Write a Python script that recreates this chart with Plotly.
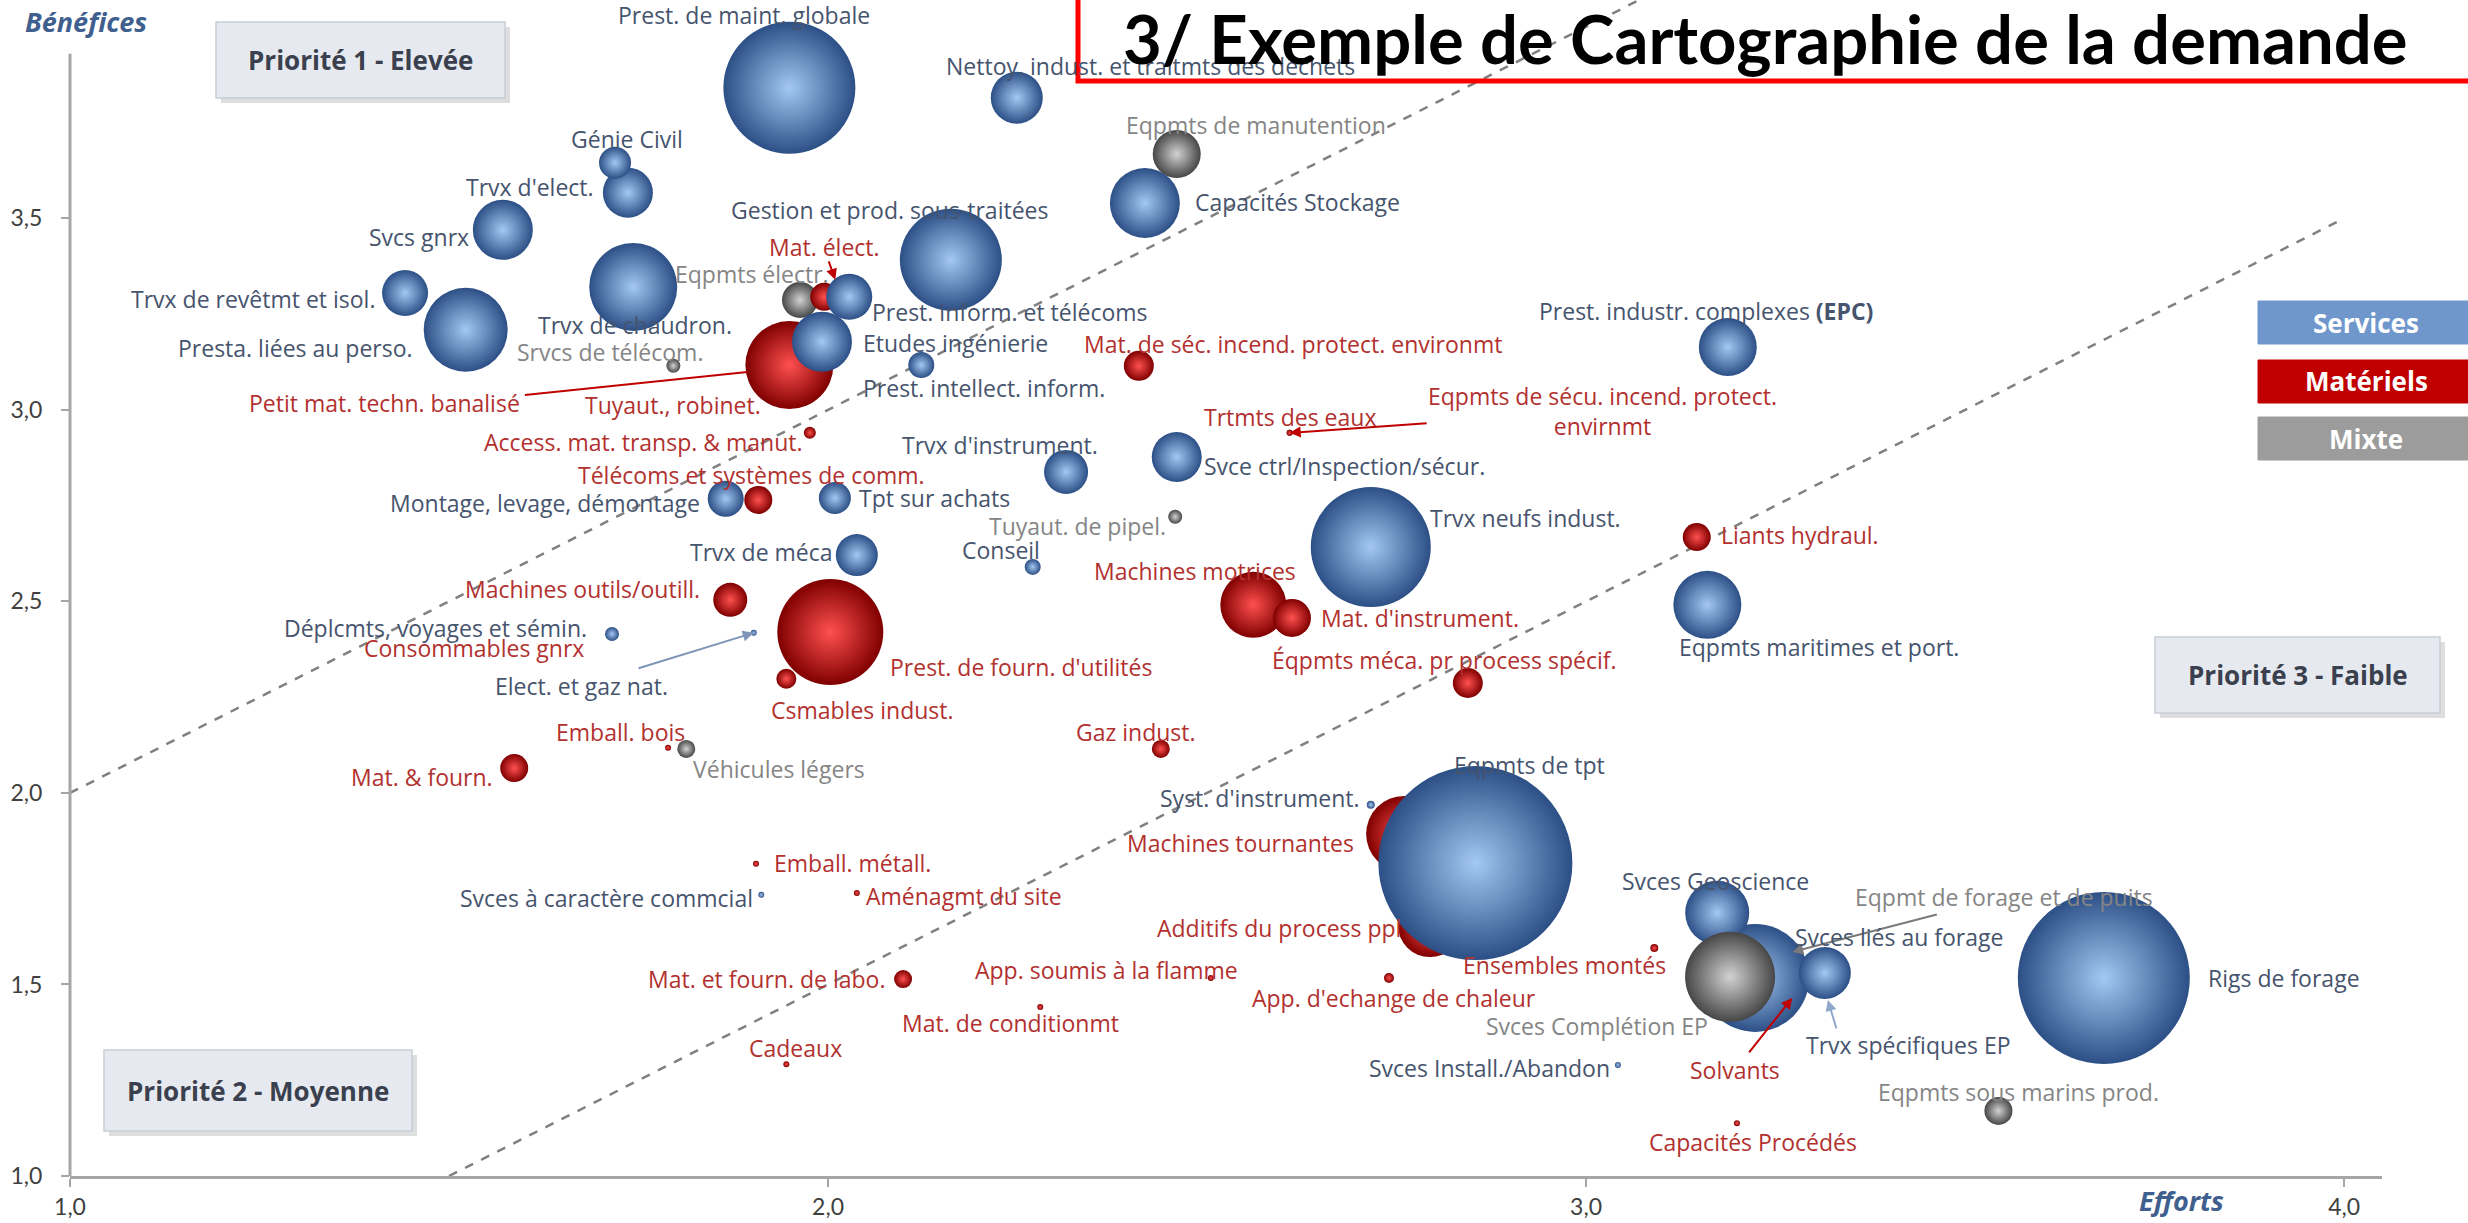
import plotly.graph_objects as go

W, H = 2468, 1223
ML, MR, MT, MB = 70, 86, 0, 47

# ---------------- data (drawing order) ----------------
noms = [
    "Tuyaut., robinet.", "Solvants", "Eqpmt de forage et de puits", "Consommables gnrx",
    "Eqpmts de sécu. incend. protect.<br>envirnmt",
    "Eqpmts de manutention", "Eqpmts électr.", "Srvcs de télécom.", "Tuyaut. de pipel.",
    "Véhicules légers", "Eqpmts sous marins prod.",
    "Prest. de fourn. d'utilités", "Petit mat. techn. banalisé", "Machines tournantes",
    "Machines motrices", "Additifs du process ppl", "Mat. d'instrument.", "Machines outils/outill.",
    "Mat. de séc. incend. protect. environmt", "Éqpmts méca. pr process spécif.", "Mat. élect.",
    "Télécoms et systèmes de comm.", "Mat. & fourn.", "Liants hydraul.", "Csmables indust.",
    "Gaz indust.", "Mat. et fourn. de labo.", "Access. mat. transp. & manut.",
    "App. d'echange de chaleur", "Ensembles montés", "Trtmts des eaux", "Emball. bois",
    "Emball. métall.", "Aménagmt du site", "App. soumis à la flamme", "Mat. de conditionmt",
    "Cadeaux", "Capacités Procédés",
    "Eqpmts de tpt", "Rigs de forage", "Prest. de maint. globale", "Trvx neufs indust.",
    "Svces liés au forage", "Gestion et prod. sous-traitées", "Trvx de chaudron.",
    "Presta. liées au perso.", "Capacités Stockage", "Eqpmts maritimes et port.",
    "Svces Geoscience", "Svcs gnrx", "Etudes ingénierie", "Prest. industr. complexes <b>(EPC)</b>",
    "Nettoy. indust. et traitmts des déchets", "Trvx d'elect.", "Svce ctrl/Inspection/sécur.",
    "Trvx de revêtmt et isol.", "Prest. inform. et télécoms", "Trvx d'instrument.", "Trvx de méca",
    "Montage, levage, démontage", "Génie Civil", "Tpt sur achats", "Prest. intellect. inform.",
    "Conseil", "Déplcmts, voyages et sémin.", "Syst. d'instrument.", "Elect. et gaz nat.",
    "Svces à caractère commcial", "Svces Install./Abandon",
    "Svces Complétion EP", "Trvx spécifiques EP",
]
efforts = [
    1.937, 3.272, 3.272, 1.715, 2.609,
    2.460, 1.963, 1.796, 2.458, 1.813, 3.544,
    2.003, 1.949, 2.760, 2.561, 2.794, 2.612, 1.871, 2.410, 2.844, 1.995,
    1.908, 1.586, 3.146, 1.945, 2.439, 2.099, 1.976, 2.740, 3.090, 2.609, 1.789,
    1.905, 2.038, 2.505, 2.280, 1.945, 3.199,
    2.854, 3.683, 1.949, 2.716, 3.223, 2.162, 1.743, 1.522, 2.418, 3.160,
    3.173, 1.571, 1.992, 3.187, 2.249, 1.736, 2.460, 1.442, 2.028, 2.314, 2.038,
    1.865, 1.719, 2.009, 2.123, 2.270, 1.715, 2.716, 1.902, 1.912, 3.042,
    3.190, 3.315,
]
benefices = [
    3.065, 1.465, 1.585, 2.410, 2.940,
    3.668, 3.287, 3.115, 2.721, 2.115, 1.170,
    2.420, 3.117, 1.893, 2.491, 1.655, 2.457, 2.504, 3.115, 2.287, 3.295,
    2.765, 2.065, 2.668, 2.298, 2.115, 1.514, 2.940, 1.517, 1.595, 2.940, 2.118,
    1.815, 1.739, 1.517, 1.441, 1.292, 1.138,
    1.817, 1.517, 3.841, 2.642, 1.517, 3.392, 3.321, 3.209, 3.540, 2.491,
    1.687, 3.470, 3.178, 3.164, 3.815, 3.567, 2.877, 3.305, 3.295, 2.838, 2.621,
    2.768, 3.645, 2.770, 3.117, 2.590, 2.415, 1.969, 2.418, 1.734, 1.290,
    1.520, 1.530,
]
taille = [
    20, 4, 4, 3, 3,
    24, 18, 7, 7, 9, 14,
    53, 44, 38, 33, 32, 19, 17, 15, 15, 14,
    14, 14, 14, 10, 9, 9, 6, 5, 4, 3, 3,
    3, 3, 3, 3, 3, 3,
    97, 86, 66, 60, 54, 51, 44, 42, 35, 34,
    32, 30, 30, 29, 26, 25, 25, 23, 23, 22, 21,
    18, 16, 16, 13, 8, 7, 4, 3, 3, 3,
    45, 26,
]
categorie = (["Matériels", "Matériels", "Mixte", "Matériels", "Matériels"]
             + ["Mixte"] * 6 + ["Matériels"] * 27 + ["Services"] * 31
             + ["Mixte", "Services"])

# ---------------- styles ----------------
FONT = "'Open Sans', sans-serif"
TFONT = "Lato, 'Open Sans', sans-serif"
# (edge colour, centre colour)
BUB = {"Services": ("#2c4f86", "#a3c8f2"),
       "Matériels": ("#800000", "#ff5050"),
       "Mixte": ("#474747", "#d2d2d2")}
TXT = {"Services": "#46546e", "Matériels": "#b2312f", "Mixte": "#858585"}
LSIZE = 23

# label placement: (dx, dy, anchor) in screen pixels relative to the bubble centre
LAB = {
    "Tuyaut., robinet.": (-107, 20, "c"), "Consommables gnrx": (-26, 12, "r"),
    "Eqpmts de manutention": (79, -29, "c"), "Eqpmts électr.": (-127, -26, "l"),
    "Srvcs de télécom.": (-63, -14, "c"), "Tuyaut. de pipel.": (-7, 9, "r"),
    "Véhicules légers": (5, 20, "l"), "Eqpmts sous marins prod.": (20, -19, "c"),
    "Prest. de fourn. d'utilités": (58, 35, "l"), "Petit mat. techn. banalisé": (-405, 38, "c"),
    "Machines tournantes": (-48, 9, "r"), "Machines motrices": (-58, -34, "c"),
    "Additifs du process ppl": (-27, 3, "r"), "Mat. d'instrument.": (27, 0, "l"),
    "Machines outils/outill.": (-28, -11, "r"),
    "Mat. de séc. incend. protect. environmt": (-57, -22, "l"),
    "Éqpmts méca. pr process spécif.": (-23, -23, "c"), "Mat. élect.": (0, -50, "c"),
    "Télécoms et systèmes de comm.": (-7, -25, "c"), "Mat. & fourn.": (-19, 9, "r"),
    "Liants hydraul.": (22, -2, "l"), "Csmables indust.": (76, 31, "c"),
    "Gaz indust.": (-25, -17, "c"), "Mat. et fourn. de labo.": (-16, 0, "r"),
    "Access. mat. transp. & manut.": (-5, 9, "r"), "App. d'echange de chaleur": (5, 20, "c"),
    "Ensembles montés": (-90, 17, "c"), "Trtmts des eaux": (0, -16, "c"),
    "Emball. bois": (-48, -16, "c"), "Emball. métall.": (16, -1, "l"),
    "Aménagmt du site": (7, 3, "l"), "App. soumis à la flamme": (-104, -8, "c"),
    "Mat. de conditionmt": (-30, 16, "c"), "Cadeaux": (9, -16, "c"),
    "Capacités Procédés": (16, 19, "c"), "Eqpmts de tpt": (54, -98, "c"),
    "Rigs de forage": (102, 0, "l"), "Prest. de maint. globale": (-45, -73, "c"),
    "Trvx neufs indust.": (57, -29, "l"), "Svces liés au forage": (38, -41, "l"),
    "Gestion et prod. sous-traitées": (-61, -50, "c"), "Trvx de chaudron.": (2, 38, "c"),
    "Presta. liées au perso.": (-51, 18, "r"), "Capacités Stockage": (48, -1, "l"),
    "Eqpmts maritimes et port.": (-30, 42, "l"), "Svces Geoscience": (-2, -32, "c"),
    "Svcs gnrx": (-32, 7, "r"), "Etudes ingénierie": (39, 1, "l"),
    "Prest. industr. complexes <b>(EPC)</b>": (-22, -36, "c"),
    "Nettoy. indust. et traitmts des déchets": (134, -32, "c"),
    "Trvx d'elect.": (-32, -6, "r"), "Svce ctrl/Inspection/sécur.": (25, 9, "l"),
    "Trvx de revêtmt et isol.": (-28, 6, "r"), "Prest. inform. et télécoms": (21, 15, "l"),
    "Trvx d'instrument.": (-66, -27, "c"), "Trvx de méca": (-22, -3, "r"),
    "Montage, levage, démontage": (-24, 4, "r"), "Génie Civil": (12, -24, "c"),
    "Tpt sur achats": (22, 0, "l"), "Prest. intellect. inform.": (-60, 23, "l"),
    "Conseil": (-32, -17, "c"), "Déplcmts, voyages et sémin.": (-23, -6, "r"),
    "Syst. d'instrument.": (-9, -7, "r"), "Svces à caractère commcial": (-6, 3, "r"),
    "Svces Install./Abandon": (-6, 3, "r"), "Svces Complétion EP": (-20, 49, "r"),
    "Trvx spécifiques EP": (84, 72, "c"),
}
# labels linked by an arrow: text centre offset (ax, ay), arrow colour
ARR_LAB = {
    "Elect. et gaz nat.": (-172, 53, "#7f95b8"),
    "Eqpmts de sécu. incend. protect.<br>envirnmt": (313, -22, "#c00000"),
    "Solvants": (-57, 72, "#c00000"),
    "Eqpmt de forage et de puits": (212, -55, "#7a7a7a"),
}
# extra leader lines: (name, xshift, yshift, ax, ay, colour, head)
LEADERS = [
    ("Mat. élect.", 11, 17, -7, -20, "#c00000", 2),
    ("Petit mat. techn. banalisé", -42, -7, -224, 23, "#c00000", 0),
    ("Trvx spécifiques EP", 3, -27, 9, 30, "#8fa8cc", 2),
]

fig = go.Figure()
fig.add_trace(go.Scatter(
    x=efforts, y=benefices, mode="markers", hoverinfo="skip", showlegend=False,
    marker=dict(size=[2 * t for t in taille], sizemode="diameter",
                color=[BUB[c][0] for c in categorie],
                gradient=dict(type="radial", color=[BUB[c][1] for c in categorie]),
                line=dict(width=0), opacity=1),
))

ann = []
idx = {n: i for i, n in enumerate(noms)}
anc = {"c": "center", "l": "left", "r": "right"}
for n, i in idx.items():
    col = TXT[categorie[i]]
    if n in LAB:
        dx, dy, a = LAB[n]
        ann.append(dict(x=efforts[i], y=benefices[i], xref="x", yref="y", text=n,
                        showarrow=False, xshift=dx, yshift=-dy, xanchor=anc[a],
                        yanchor="middle", font=dict(family=FONT, size=LSIZE, color=col)))
    elif n in ARR_LAB:
        ax, ay, ac = ARR_LAB[n]
        ann.append(dict(x=efforts[i], y=benefices[i], xref="x", yref="y", text=n,
                        showarrow=True, ax=ax, ay=ay, arrowcolor=ac, arrowwidth=2,
                        arrowhead=2, arrowsize=1.1, standoff=0,
                        font=dict(family=FONT, size=LSIZE, color=col)))
for n, xs, ys, ax, ay, ac, hd in LEADERS:
    i = idx[n]
    ann.append(dict(x=efforts[i], y=benefices[i], xref="x", yref="y", text="",
                    showarrow=True, xshift=xs, yshift=ys, ax=ax, ay=ay, arrowcolor=ac,
                    arrowwidth=2, arrowhead=hd, arrowsize=1.1, standoff=0))

PW, PH = W - ML - MR, H - MT - MB
def px(v): return (v - ML) / PW
def py(v): return (H - MB - v) / PH

shapes = []
# diagonal separators
shapes.append(dict(type="line", xref="x", yref="y", x0=1.0, y0=2.0, x1=3.07, y1=4.07,
                   line=dict(color="#808080", width=2.5, dash="dash"), layer="below"))
shapes.append(dict(type="line", xref="x", yref="y", x0=1.5, y0=1.0, x1=4.0, y1=3.5,
                   line=dict(color="#808080", width=2.5, dash="dash"), layer="below"))
# y axis line
shapes.append(dict(type="line", xref="paper", yref="y", x0=0, x1=0, y0=1.0, y1=3.93,
                   line=dict(color="#a6a6a6", width=3)))
# priority boxes
for (x0, y0, x1, y1, t) in [(216, 22, 505, 98, "Priorité 1 - Elevée"),
                            (104, 1050, 412, 1131, "Priorité 2 - Moyenne"),
                            (2155, 637, 2440, 713, "Priorité 3 - Faible")]:
    shapes.append(dict(type="rect", xref="paper", yref="paper", x0=px(x0 + 5), x1=px(x1 + 5),
                       y0=py(y1 + 5), y1=py(y0 + 5), fillcolor="rgba(0,0,0,0.13)",
                       line=dict(width=0)))
    shapes.append(dict(type="rect", xref="paper", yref="paper", x0=px(x0), x1=px(x1),
                       y0=py(y1), y1=py(y0), fillcolor="#e6eaf0",
                       line=dict(color="#c8cdd6", width=1.5)))
    ann.append(dict(xref="paper", yref="paper", x=px((x0 + x1) / 2), y=py((y0 + y1) / 2),
                    text="<b>%s</b>" % t, showarrow=False, xanchor="center", yanchor="middle",
                    font=dict(family=FONT, size=26, color="#3a404d")))
# legend boxes
for (y0, y1, fc, t) in [(301, 344, "#7097cc", "Services"), (360, 403, "#c00000", "Matériels"),
                        (417, 460, "#9c9c9c", "Mixte")]:
    shapes.append(dict(type="rect", xref="paper", yref="paper", x0=px(2258), x1=px(2480),
                       y0=py(y1), y1=py(y0), fillcolor=fc, line=dict(color=fc, width=1)))
    ann.append(dict(xref="paper", yref="paper", x=px(2366), y=py((y0 + y1) / 2),
                    text="<b>%s</b>" % t, showarrow=False, xanchor="center", yanchor="middle",
                    font=dict(family=FONT, size=26, color="white")))
# title box
shapes.append(dict(type="rect", xref="paper", yref="paper", x0=px(1078), x1=px(2480),
                   y0=py(81), y1=py(-6), line=dict(color="#ff0000", width=5)))
ann.append(dict(xref="paper", yref="paper", x=px(1765), y=py(38),
                text="<b>3/ Exemple de Cartographie de la demande</b>", showarrow=False,
                xanchor="center", yanchor="middle",
                font=dict(family=TFONT, size=67, color="black")))
# axis titles
ann.append(dict(xref="paper", yref="paper", x=px(86), y=py(22), text="<b><i>Bénéfices</i></b>",
                showarrow=False, xanchor="center", yanchor="middle",
                font=dict(family=FONT, size=27, color="#3f5f8f")))
ann.append(dict(xref="paper", yref="paper", x=px(2181), y=py(1200), text="<b><i>Efforts</i></b>",
                showarrow=False, xanchor="center", yanchor="middle",
                font=dict(family=FONT, size=27, color="#3f5f8f")))

fig.update_layout(
    width=W, height=H, margin=dict(l=ML, r=MR, t=MT, b=MB),
    paper_bgcolor="white", plot_bgcolor="white", separators=", ",
    shapes=shapes, annotations=ann,
    xaxis=dict(range=[1.0, 4.05], tickvals=[1, 2, 3, 4], tickformat=".1f", showgrid=False,
               zeroline=False, showline=True, linecolor="#a6a6a6", linewidth=3,
               ticks="outside", ticklen=8, tickwidth=2, tickcolor="#a6a6a6",
               tickfont=dict(family=TFONT, size=23, color="#404040")),
    yaxis=dict(range=[1.0, 4.07], tickvals=[1.0, 1.5, 2.0, 2.5, 3.0, 3.5], tickformat=".1f",
               showgrid=False, zeroline=False, showline=False, ticks="outside", ticklen=8,
               tickwidth=2, tickcolor="#a6a6a6", ticklabelstandoff=14,
               tickfont=dict(family=TFONT, size=23, color="#404040")),
)
fig.write_html("out.html", config={"displayModeBar": False},
               post_script="document.body.style.margin='0px';")
